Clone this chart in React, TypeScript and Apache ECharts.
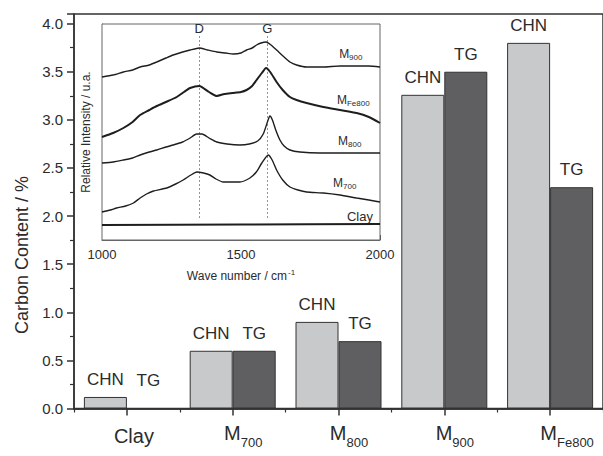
import React, { useEffect, useRef } from 'react';
import * as echarts from 'echarts';

// ---------- Main bar chart data ----------
const categories = ['Clay', 'M700', 'M800', 'M900', 'MFe800'];
const chnValues = [0.12, 0.6, 0.9, 3.26, 3.8];
const tgValues = [0, 0.6, 0.7, 3.5, 2.3];

// ---------- Inset Raman spectra (wave number / cm-1, relative intensity a.u.) ----------
const specM900: [number, number][] = [
  [1000, 163], [1040, 165], [1077, 168], [1110, 170], [1137, 173], [1170, 175], [1197, 178],
  [1230, 182], [1256, 185], [1290, 188], [1317, 190], [1350, 192], [1380, 190], [1413, 188],
  [1445, 187], [1472, 186], [1500, 187], [1520, 190], [1540, 192], [1556, 195], [1572, 197],
  [1590, 198], [1608, 195], [1628, 190], [1651, 184], [1676, 178], [1700, 175], [1736, 173],
  [1796, 173], [1856, 174], [1916, 174], [1960, 174], [2000, 173],
];
const specMFe800: [number, number][] = [
  [1000, 103], [1040, 107], [1077, 112], [1110, 118], [1137, 125], [1170, 130], [1197, 134],
  [1230, 138], [1269, 143], [1295, 148], [1317, 152], [1350, 154], [1385, 148], [1413, 144],
  [1440, 146], [1470, 147], [1500, 148], [1520, 150], [1540, 154], [1556, 160], [1575, 167],
  [1590, 172], [1605, 168], [1628, 158], [1650, 150], [1676, 143], [1700, 140], [1736, 137],
  [1796, 133], [1856, 130], [1916, 127], [1960, 123], [2000, 117],
];
const specM800: [number, number][] = [
  [1000, 77], [1040, 78], [1077, 80], [1110, 82], [1137, 85], [1170, 88], [1197, 90],
  [1230, 93], [1256, 95], [1290, 98], [1317, 102], [1340, 106], [1360, 106], [1385, 102],
  [1413, 98], [1450, 96], [1496, 95], [1530, 96], [1560, 99], [1580, 106], [1595, 118],
  [1604, 124], [1613, 120], [1625, 110], [1640, 100], [1655, 94], [1676, 90], [1712, 88],
  [1784, 87], [1900, 87], [2000, 87],
];
const specM700: [number, number][] = [
  [1000, 28], [1030, 30], [1053, 32], [1085, 34], [1113, 37], [1137, 42], [1160, 46], [1185, 49],
  [1233, 52], [1265, 56], [1292, 60], [1320, 65], [1341, 68], [1365, 67], [1388, 65], [1410, 61],
  [1436, 58], [1470, 58], [1496, 58], [1532, 62], [1555, 68], [1575, 77], [1598, 85], [1612, 80],
  [1628, 70], [1650, 60], [1676, 53], [1705, 50], [1736, 48], [1796, 47], [1856, 45], [1916, 42],
  [1960, 40], [2000, 38],
];
const specClay: [number, number][] = [
  [1000, 15], [1500, 15.5], [2000, 16],
];
const bandD = 1350;
const bandG = 1595;
const bandLineRange = [22, 204];

// curve labels: [main, subscript, wave number, intensity]
const curveLabels: [string, string, number, number][] = [
  ['M', '900', 1853, 186],
  ['M', 'Fe800', 1845, 140],
  ['M', '800', 1849, 99],
  ['M', '700', 1831, 57],
  ['Clay', '', 1881, 24],
];

const FONT = "'Liberation Sans', Arial, Helvetica, sans-serif";
const TXT = '#2b2b2b';

export default function App() {
  const ref = useRef<HTMLDivElement>(null);

  useEffect(() => {
    if (!ref.current) return;
    const chart = echarts.init(ref.current, undefined, { renderer: 'svg' });

    const catFormatter = (v: string) => {
      if (v === 'Clay') return '{c|Clay}';
      const sub = v.slice(1);
      const sp = sub.length > 3 ? 'sp5' : 'sp3';
      return `{${sp}| }{m|M}{s|${sub}}`;
    };

    const lineSeries = (data: [number, number][], width: number, idx: number) => {
      const lab = curveLabels[idx];
      return {
        type: 'line',
        xAxisIndex: 2,
        yAxisIndex: 1,
        data,
        smooth: 0.2,
        showSymbol: false,
        symbol: 'none',
        lineStyle: { color: '#1e1e1e', width },
        z: 5,
        markPoint: {
          symbol: 'circle',
          symbolSize: 0,
          silent: true,
          data: [
            {
              coord: [lab[2], lab[3]],
              label: {
                show: true,
                position: 'right',
                distance: 0,
                fontFamily: FONT,
                color: TXT,
                formatter: lab[1] ? `{m|${lab[0]}}{s|${lab[1]}}` : `{c|${lab[0]}}`,
                rich: {
                  m: { fontSize: 12, fontFamily: FONT, color: TXT },
                  s: { fontSize: 8, fontFamily: FONT, color: TXT, padding: [7, 0, 0, 0] },
                  c: { fontSize: 13, fontFamily: FONT, color: TXT },
                },
              },
            },
          ],
        },
      } as any;
    };

    const clayLine = lineSeries(specClay, 2, 4);
    clayLine.markLine = {
      silent: true,
      symbol: 'none',
      lineStyle: { color: '#777', width: 0.8, type: [2, 2] },
      label: {
        show: true,
        position: 'end',
        distance: 1,
        fontSize: 13,
        fontFamily: FONT,
        color: TXT,
      },
      data: [
        [
          { coord: [bandD, bandLineRange[0]] },
          { coord: [bandD, bandLineRange[1]], label: { formatter: 'D' } },
        ],
        [
          { coord: [bandG, bandLineRange[0]] },
          { coord: [bandG, bandLineRange[1]], label: { formatter: 'G' } },
        ],
      ],
    };

    const option: any = {
      animation: false,
      backgroundColor: '#fff',
      textStyle: { fontFamily: FONT },
      grid: [
        {
          left: 74,
          top: 14,
          width: 530,
          height: 394.5,
          show: true,
          borderColor: '#333',
          borderWidth: 1.5,
        },
        {
          left: 102,
          top: 24,
          width: 278,
          height: 216,
          show: true,
          backgroundColor: '#fff',
          borderColor: '#666',
          borderWidth: 1,
          z: 3,
        },
      ],
      xAxis: [
        {
          type: 'category',
          gridIndex: 0,
          position: 'bottom',
          data: categories,
          axisLine: { show: true, lineStyle: { color: '#333', width: 1.5 } },
          axisTick: {
            show: true,
            inside: false,
            alignWithLabel: true,
            interval: 0,
            length: 7,
            lineStyle: { color: '#333', width: 1.5 },
          },
          axisLabel: {
            interval: 0,
            hideOverlap: false,
            margin: 13.5,
            color: TXT,
            formatter: catFormatter,
            rich: {
              c: { fontSize: 20, lineHeight: 22, fontFamily: FONT, color: TXT, padding: [6, 0, 0, 14] },
              m: { fontSize: 20, lineHeight: 22, fontFamily: FONT, color: TXT },
              s: { fontSize: 13, lineHeight: 13, fontFamily: FONT, color: TXT, padding: [18, 0, 0, 0] },
              sp3: { width: 21, fontSize: 13 },
              sp5: { width: 34, fontSize: 13 },
            },
          },
          splitLine: { show: false },
        },
        {
          type: 'category',
          gridIndex: 0,
          position: 'bottom',
          data: categories,
          axisLine: { show: true, lineStyle: { color: '#333', width: 1.5 } },
          axisTick: {
            show: true,
            inside: false,
            alignWithLabel: false,
            interval: 0,
            length: 4,
            lineStyle: { color: '#333', width: 1.2 },
          },
          axisLabel: { show: false },
          splitLine: { show: false },
        },
        {
          type: 'value',
          gridIndex: 1,
          position: 'bottom',
          min: 1000,
          max: 2000,
          interval: 500,
          axisLine: { show: true, lineStyle: { color: '#666', width: 1 } },
          axisTick: { show: true, inside: true, length: 5, lineStyle: { color: '#555' } },
          minorTick: { show: true, splitNumber: 2, length: 3, lineStyle: { color: '#555' } },
          axisLabel: {
            fontSize: 13,
            margin: 8,
            color: TXT,
            fontFamily: FONT,
            formatter: (v: number) => String(v),
          },
          splitLine: { show: false },
          name: 'Wave number / cm{sup|-1}',
          nameLocation: 'middle',
          nameGap: 28,
          nameTextStyle: {
            fontSize: 12,
            color: TXT,
            fontFamily: FONT,
            rich: {
              sup: { fontSize: 8, fontFamily: FONT, color: TXT, padding: [0, 0, 7, 1] },
            },
          },
        },
      ],
      yAxis: [
        {
          type: 'value',
          gridIndex: 0,
          position: 'left',
          min: 0,
          max: 4.1,
          interval: 0.5,
          axisLine: { show: true, lineStyle: { color: '#333', width: 1.5 } },
          axisTick: { show: true, length: 7, lineStyle: { color: '#333', width: 1.5 } },
          minorTick: { show: true, splitNumber: 2, length: 4, lineStyle: { color: '#333', width: 1.2 } },
          axisLabel: {
            fontSize: 15,
            margin: 11,
            color: TXT,
            fontFamily: FONT,
            showMaxLabel: false,
            formatter: (v: number) => v.toFixed(1),
          },
          splitLine: { show: false },
        },
        {
          type: 'value',
          gridIndex: 1,
          position: 'left',
          min: 0,
          max: 216,
          axisLine: { show: true, lineStyle: { color: '#666', width: 1 } },
          axisTick: { show: false },
          axisLabel: { show: false },
          splitLine: { show: false },
          name: 'Relative Intensity / u.a.',
          nameLocation: 'middle',
          nameGap: 10,
          nameTextStyle: { fontSize: 12, color: TXT, fontFamily: FONT },
        },
      ],
      graphic: [
        {
          type: 'text',
          x: 22,
          y: 255,
          rotation: Math.PI / 2,
          style: {
            text: 'Carbon Content / %',
            fontSize: 18,
            fontFamily: FONT,
            fill: TXT,
            textAlign: 'center',
            textVerticalAlign: 'middle',
          },
        },
      ],
      series: [
        {
          type: 'bar',
          name: 'CHN',
          xAxisIndex: 0,
          yAxisIndex: 0,
          data: chnValues,
          barWidth: 43,
          barGap: '0%',
          itemStyle: { color: '#c8c9cb', borderColor: '#333', borderWidth: 1 },
          label: {
            show: true,
            position: 'top',
            distance: 9,
            formatter: 'CHN',
            fontSize: 17,
            color: TXT,
            fontFamily: FONT,
          },
        },
        {
          type: 'bar',
          name: 'TG',
          xAxisIndex: 0,
          yAxisIndex: 0,
          data: tgValues.map((v) => (v === 0 ? { value: v, label: { distance: 20 }, itemStyle: { borderWidth: 0 } } : v)),
          barWidth: 43,
          barGap: '0%',
          itemStyle: { color: '#5f5f61', borderColor: '#333', borderWidth: 1 },
          label: {
            show: true,
            position: 'top',
            distance: 9,
            formatter: 'TG',
            fontSize: 17,
            color: TXT,
            fontFamily: FONT,
          },
        },
        lineSeries(specM900, 1.4, 0),
        lineSeries(specMFe800, 2, 1),
        lineSeries(specM800, 1.4, 2),
        lineSeries(specM700, 1.4, 3),
        clayLine,
      ],
    };

    chart.setOption(option);
    return () => chart.dispose();
  }, []);

  return (
    <div
      ref={ref}
      style={{ position: 'absolute', left: 0, top: 0, width: 603, height: 456 }}
    />
  );
}
